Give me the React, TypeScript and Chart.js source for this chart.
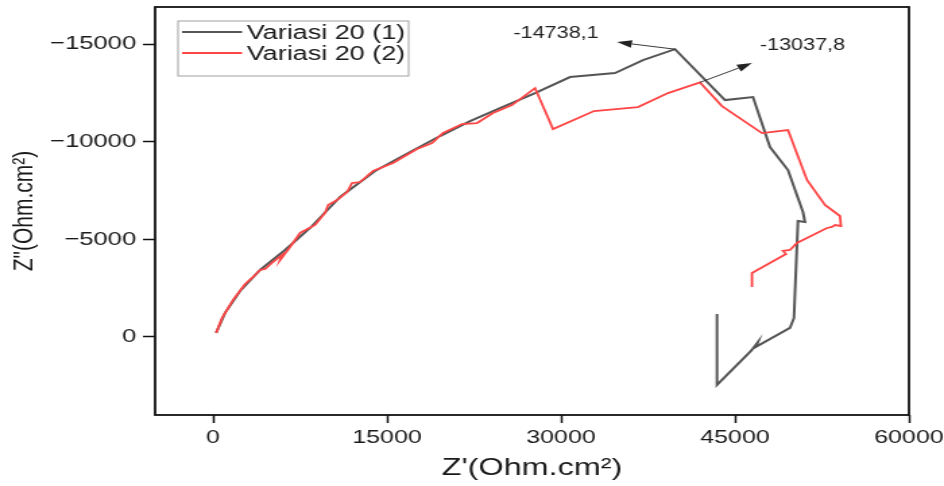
import React, { useEffect, useRef } from 'react';
import { Chart, registerables } from 'chart.js';

Chart.register(...registerables);

// ---------- data ----------
const seriesLabels = ['Variasi 20 (1)', 'Variasi 20 (2)'];
const seriesColors = ['#555555', '#ff4545'];

// Variasi 20 (1): Z' and Z''
const zReal1 = [259, 1034, 2328, 4052, 6207, 8362, 10948, 13966, 16983, 19569, 22155, 24741, 27759, 30776, 34655, 37069, 39828, 44138, 46552, 48017, 49569, 50862, 51034, 50431, 50086, 49741, 46810, 46983, 46380, 43448, 43448];
const zImag1 = [-205, -1229, -2355, -3430, -4454, -5580, -7167, -8498, -9470, -10289, -11057, -11722, -12490, -13310, -13514, -14180, -14738.1, -12132, -12285, -9726, -8549, -6399, -5887, -5938, -973, -461, 512, 256, 717, 2457, -1178];

// Variasi 20 (2): Z' and Z''
const zReal2 = [259, 776, 1724, 2759, 3362, 4052, 4483, 5172, 5948, 5776, 6638, 7500, 8793, 9655, 9914, 10690, 11552, 11983, 12672, 13793, 15517, 17586, 18879, 19828, 21466, 22759, 24138, 25776, 27759, 29310, 32845, 36638, 39224, 41983, 43879, 47328, 49569, 51207, 52759, 54052, 54138, 53621, 53362, 52931, 50345, 49741, 49138, 49397, 46466, 46466];
const zImag2 = [-205, -973, -1894, -2713, -3020, -3430, -3481, -3839, -4198, -3942, -4607, -5324, -5733, -6348, -6757, -7013, -7423, -7883, -7934, -8498, -8907, -9624, -9931, -10443, -10903, -10955, -11467, -11876, -12746, -10648, -11569, -11774, -12490, -13037.8, -11825, -10443, -10597, -8037, -6757, -6194, -5682, -5733, -5631, -5580, -4812, -4454, -4403, -4249, -3276, -2560];

const xTicks = [0, 15000, 30000, 45000, 60000];
const yTicks = [-15000, -10000, -5000, 0];
const xRange = [-5000, 60000];
const yRange = [-16900, 4000];

const xTitle = "Z'(Ohm.cm\u00B2)";
const yTitle = 'Z"(Ohm.cm\u00B2)';

// annotations (data coordinates)
const noteTexts = ['-14738,1', '-13037,8'];
const noteTailX = [39828, 41983];
const noteTailY = [-14738.1, -13037.8];
const noteTipX = [34828, 46466];
const noteTipY = [-15101, -14026];
const noteTextX = [29570, 50820];
const noteTextY = [-15562, -14947];

const FONT = '"Liberation Sans", Arial, Helvetica, sans-serif';

const zip = (xs: number[], ys: number[]) => xs.map((x, i) => ({ x, y: ys[i] }));

const decorPlugin = {
  id: 'decor',
  afterDraw(chart: any) {
    const { ctx, chartArea: a, scales } = chart;
    const xs = scales.x;
    const ys = scales.y;
    ctx.save();
    // frame
    ctx.strokeStyle = '#111';
    ctx.lineWidth = 1.8;
    ctx.strokeRect(a.left, a.top, a.right - a.left, a.bottom - a.top);

    // annotations
    ctx.strokeStyle = '#222';
    ctx.fillStyle = '#222';
    ctx.lineWidth = 0.9;
    noteTexts.forEach((t, i) => {
      const x0 = xs.getPixelForValue(noteTailX[i]);
      const y0 = ys.getPixelForValue(noteTailY[i]);
      const x1 = xs.getPixelForValue(noteTipX[i]);
      const y1 = ys.getPixelForValue(noteTipY[i]);
      const ang = Math.atan2(y1 - y0, x1 - x0);
      const c = Math.cos(ang);
      const s = Math.sin(ang);
      const head = 11;
      const hw = 3.8;
      const bx = x1 - head * c;
      const by = y1 - head * s;
      ctx.beginPath();
      ctx.moveTo(x0, y0);
      ctx.lineTo(bx, by);
      ctx.stroke();
      ctx.beginPath();
      ctx.moveTo(x1, y1);
      ctx.lineTo(bx + hw * s, by - hw * c);
      ctx.lineTo(bx - hw * s, by + hw * c);
      ctx.closePath();
      ctx.fill();
      ctx.font = `16px ${FONT}`;
      ctx.textAlign = 'center';
      ctx.textBaseline = 'middle';
      ctx.fillText(t, xs.getPixelForValue(noteTextX[i]), ys.getPixelForValue(noteTextY[i]));
    });

    // legend
    const lx = a.left + 17;
    const ly = a.top + 14;
    const lw = 171;
    const lh = 55;
    ctx.strokeStyle = '#a0a0a0';
    ctx.lineWidth = 1;
    ctx.strokeRect(lx, ly, lw, lh);
    chart.data.datasets.forEach((ds: any, i: number) => {
      const ry = ly + 11 + i * 21;
      ctx.strokeStyle = ds.borderColor;
      ctx.lineWidth = 2;
      ctx.beginPath();
      ctx.moveTo(lx + 3, ry);
      ctx.lineTo(lx + 47.5, ry);
      ctx.stroke();
      ctx.fillStyle = '#1a1a1a';
      ctx.font = `20px ${FONT}`;
      ctx.textAlign = 'left';
      ctx.textBaseline = 'middle';
      ctx.fillText(ds.label, lx + 51, ry + 1);
    });
    ctx.restore();
  },
};

export default function App() {
  const ref = useRef<HTMLCanvasElement>(null);

  useEffect(() => {
    const canvas = ref.current;
    if (!canvas) return;
    const chart = new Chart(canvas, {
      type: 'scatter',
      data: {
        datasets: [
          {
            label: seriesLabels[0],
            data: zip(zReal1, zImag1),
            showLine: true,
            borderColor: seriesColors[0],
            backgroundColor: seriesColors[0],
            borderWidth: 2,
            pointRadius: 0,
            tension: 0,
            order: 2,
          },
          {
            label: seriesLabels[1],
            data: zip(zReal2, zImag2),
            showLine: true,
            borderColor: seriesColors[1],
            backgroundColor: seriesColors[1],
            borderWidth: 1.8,
            pointRadius: 0,
            tension: 0,
            order: 1,
          },
        ],
      },
      options: {
        responsive: false,
        animation: false,
        devicePixelRatio: 1,
        layout: { padding: { left: 0, right: 26, top: 7, bottom: 0 } },
        plugins: {
          legend: { display: false },
          tooltip: { enabled: false },
        },
        scales: {
          x: {
            type: 'linear',
            min: xRange[0],
            max: xRange[1],
            afterBuildTicks: (s: any) => {
              s.ticks = xTicks.map((v) => ({ value: v }));
            },
            afterFit: (s: any) => {
              s.height = 71;
              s.paddingLeft = 0;
              s.paddingRight = 0;
              s.paddingTop = 0;
              s.paddingBottom = 0;
            },
            grid: {
              display: true,
              drawOnChartArea: false,
              drawTicks: true,
              tickLength: 8,
              tickColor: '#111',
              tickWidth: 1.5,
            },
            border: { display: false },
            ticks: {
              color: '#1a1a1a',
              font: { family: FONT, size: 18.5 },
              padding: 4,
              maxRotation: 0,
              callback: (v: any) => String(v),
            },
            title: {
              display: true,
              text: xTitle,
              color: '#1a1a1a',
              font: { family: FONT, size: 24 },
              padding: { top: 0, bottom: 3 },
            },
          },
          y: {
            type: 'linear',
            min: yRange[0],
            max: yRange[1],
            reverse: true,
            afterBuildTicks: (s: any) => {
              s.ticks = yTicks.map((v) => ({ value: v }));
            },
            afterFit: (s: any) => {
              s.width = 115;
              s.paddingLeft = 0;
              s.paddingRight = 0;
              s.paddingTop = 0;
              s.paddingBottom = 0;
            },
            grid: {
              display: true,
              drawOnChartArea: false,
              drawTicks: true,
              tickLength: 9,
              tickColor: '#111',
              tickWidth: 1.5,
            },
            border: { display: false },
            ticks: {
              color: '#1a1a1a',
              font: { family: FONT, size: 19 },
              padding: 5,
              callback: (v: any) => (Number(v) < 0 ? '\u2212' + Math.abs(Number(v)) : String(v)),
            },
            title: {
              display: true,
              text: yTitle,
              color: '#1a1a1a',
              font: { family: FONT, size: 21 },
              padding: { top: 6, bottom: 0 },
            },
          },
        },
      },
      plugins: [decorPlugin],
    });
    return () => chart.destroy();
  }, []);

  return (
    <div style={{ position: 'fixed', left: 0, top: 0, width: 944, height: 486, background: '#fff' }}>
      <canvas
        ref={ref}
        width={700}
        height={486}
        style={{ width: '944px', height: '486px', display: 'block' }}
      />
    </div>
  );
}
